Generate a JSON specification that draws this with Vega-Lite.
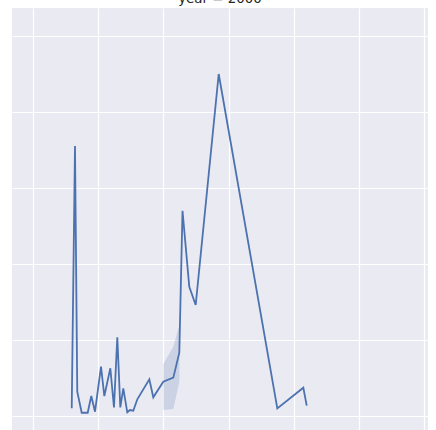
{
  "$schema": "https://vega.github.io/schema/vega-lite/v6.json",
  "autosize": {"type": "none"},
  "padding": {"left": 12, "top": 8, "right": 0, "bottom": 0},
  "width": 416,
  "height": 422,
  "background": "white",
  "title": {"text": "year = 2000", "fontSize": 13.4, "font": "DejaVu Sans", "fontWeight": "normal", "color": "#262626", "offset": 0, "baseline": "alphabetic", "anchor": "middle", "dy": 8},
  "config": {
    "view": {"fill": "#EAEAF2", "stroke": null},
    "axis": {"labels": false, "ticks": false, "domain": false, "title": null, "grid": true, "gridColor": "#FFFFFF", "gridWidth": 1.2, "gridOpacity": 1}
  },
  "data": {"values": [
    {"x": 5.94, "y": 0.101},
    {"x": 6.44, "y": 3.553},
    {"x": 6.79, "y": 0.320},
    {"x": 7.47, "y": 0.043},
    {"x": 8.39, "y": 0.043},
    {"x": 8.94, "y": 0.263},
    {"x": 9.51, "y": 0.057},
    {"x": 10.43, "y": 0.649},
    {"x": 10.94, "y": 0.263},
    {"x": 11.86, "y": 0.628},
    {"x": 12.42, "y": 0.114},
    {"x": 12.93, "y": 1.036},
    {"x": 13.39, "y": 0.114},
    {"x": 13.85, "y": 0.364},
    {"x": 14.46, "y": 0.049},
    {"x": 14.88, "y": 0.079},
    {"x": 15.38, "y": 0.070},
    {"x": 16.00, "y": 0.220},
    {"x": 17.84, "y": 0.483},
    {"x": 18.45, "y": 0.246},
    {"x": 19.98, "y": 0.451, "lo": 0.079, "hi": 0.684},
    {"x": 21.52, "y": 0.504, "lo": 0.092, "hi": 0.912},
    {"x": 22.44, "y": 0.833, "lo": 0.451, "hi": 1.197},
    {"x": 22.93, "y": 2.701},
    {"x": 23.97, "y": 1.701},
    {"x": 24.95, "y": 1.461},
    {"x": 28.48, "y": 4.500},
    {"x": 37.47, "y": 0.101},
    {"x": 41.46, "y": 0.372},
    {"x": 41.98, "y": 0.136}
  ]},
  "encoding": {
    "x": {"field": "x", "type": "quantitative", "scale": {"domain": [-3.22, 60.58], "nice": false, "zero": false}, "axis": {"values": [0, 10, 20, 30, 40, 50, 60]}}
  },
  "layer": [
    {
      "mark": {"type": "area", "color": "#4C72B0", "opacity": 0.2},
      "encoding": {
        "y": {"field": "lo", "type": "quantitative", "scale": {"domain": [-0.184, 5.368], "nice": false, "zero": false}, "axis": {"values": [0, 1, 2, 3, 4, 5]}},
        "y2": {"field": "hi"}
      }
    },
    {
      "mark": {"type": "line", "color": "#4C72B0", "strokeWidth": 1.8},
      "encoding": {
        "y": {"field": "y", "type": "quantitative"}
      }
    }
  ]
}
